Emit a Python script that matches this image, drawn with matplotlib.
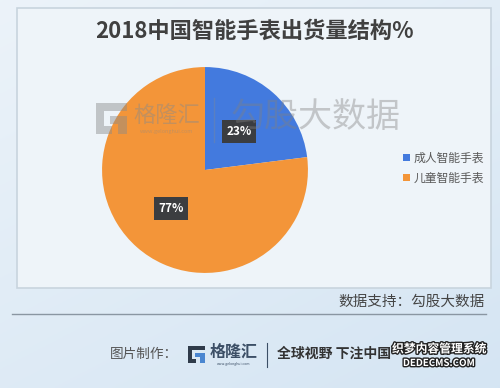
import numpy as np
import matplotlib
matplotlib.use('Agg')
import matplotlib.pyplot as plt
from matplotlib.patches import Rectangle, Polygon
import matplotlib.patheffects as pe

plt.rcParams['font.family'] = ['Noto Sans CJK SC', 'DejaVu Sans']

title = '2018中国智能手表出货量结构%'
labels = ['成人智能手表', '儿童智能手表']
shares = [23, 77]
colors = ['#437ADE', '#F39539']
source = '数据支持：勾股大数据'

W, H = 500, 388
fig = plt.figure(figsize=(W / 100, H / 100), dpi=100)

def fx(x):
    return x / W

def fy(y):
    return 1 - y / H

# background gradient + panel
bg = fig.add_axes([0, 0, 1, 1], zorder=-2)
yy, xx = np.mgrid[0:1:200j, 0:1:200j]
t = 0.6 * yy + 0.4 * xx
c0 = np.array([0.925, 0.953, 0.978])
c1 = np.array([0.835, 0.898, 0.953])
img = c0[None, None, :] * (1 - t[..., None]) + c1[None, None, :] * t[..., None]
bg.imshow(img, extent=[0, W, H, 0], aspect='auto')
bg.set_xlim(0, W)
bg.set_ylim(H, 0)
bg.axis('off')
bg.add_patch(Rectangle((17, 8), 474, 280, fc='#eef4f9', ec='#c8d4de', lw=1.2))
bg.plot([12, 486], [314, 314], color='#8a96a2', lw=1)

# title
fig.text(fx(254), fy(31), title, fontsize=16, fontweight='bold', color='#404040',
         ha='center', va='center')

# pie
ax = fig.add_axes([fx(100), fy(275), 210 / W, 210 / H])
wedges, _, autotexts = ax.pie(shares, colors=colors, startangle=90, counterclock=False,
                              autopct='%d%%', pctdistance=0.5,
                              wedgeprops=dict(linewidth=0))
for at in autotexts:
    at.set_color('white')
    at.set_fontsize(8.5)
    at.set_fontweight('bold')
    at.set_zorder(10)
    at.set_bbox(dict(boxstyle='square,pad=0.4', fc='#3b3d40', ec='none'))
ax.set_xlim(-1.02, 1.02)
ax.set_ylim(-1.02, 1.02)

fig.legend(wedges, labels, loc='center left', bbox_to_anchor=(fx(392), fy(168)),
           frameon=False, fontsize=8.5, handlelength=0.6, handleheight=0.6,
           handletextpad=0.3, labelspacing=0.6, labelcolor='#595959')

# watermark, drawn over the pie
wm = fig.add_axes([0, 0, 1, 1], zorder=5)
wm.set_xlim(0, W)
wm.set_ylim(H, 0)
wm.axis('off')
wm_kw = dict(fc='#8a8a8a', ec='none', alpha=0.45)
wm.add_patch(Polygon([(96, 103), (127, 103), (127, 111), (104, 111), (104, 126),
                      (112, 126), (112, 134), (96, 134)], closed=True, **wm_kw))
wm.add_patch(Polygon([(110, 116), (127, 116), (127, 134), (118, 134), (118, 124),
                      (110, 124)], closed=True, **wm_kw))
wm.text(167, 115, '格隆汇', fontsize=16, color='#8a8a8a', alpha=0.45, ha='center', va='center')
wm.text(167, 132, 'www.gelonghui.com', fontsize=4, color='#8a8a8a', alpha=0.45,
        ha='center', va='center')
wm.plot([214, 214], [98, 142], color='#8a8a8a', alpha=0.35, lw=1)
wm.text(316, 118, '勾股大数据', fontsize=24.5, color='#808080', alpha=0.4, ha='center', va='center')

# source + footer
fig.text(fx(485), fy(302), source, fontsize=10.5, color='#454545', ha='right', va='center')
fig.text(fx(110), fy(354), '图片制作：', fontsize=9.8, color='#555555', ha='left', va='center')
bg.add_patch(Polygon([(188, 346), (205, 346), (205, 350), (192, 350), (192, 359),
                      (196, 359), (196, 363), (188, 363)], closed=True, fc='#2f3b4a', ec='none'))
bg.add_patch(Polygon([(195, 353), (205, 353), (205, 363), (200, 363), (200, 357),
                      (195, 357)], closed=True, fc='#4a86d0', ec='none'))
bg.text(234, 352, '格隆汇', fontsize=11.5, fontweight='bold', color='#3c4f66', ha='center', va='center')
bg.text(234, 364, 'www.gelonghui.com', fontsize=2.5, color='#3c4f66', ha='center', va='center')
bg.plot([267, 267], [343, 367], color='#3c4f66', lw=0.8)
fig.text(fx(277), fy(354), '全球视野 下注中国', fontsize=10, fontweight='bold', color='#333333',
         ha='left', va='center')
stroke = [pe.withStroke(linewidth=2, foreground='#222222')]
wm.text(439, 349, '织梦内容管理系统', fontsize=8.5, fontweight='bold', color='white',
        ha='center', va='center', path_effects=stroke)
wm.text(439, 363, 'DEDECMS.COM', fontsize=7, fontweight='bold', color='white',
        ha='center', va='center', path_effects=stroke)

fig.savefig('out.png', dpi=100)
